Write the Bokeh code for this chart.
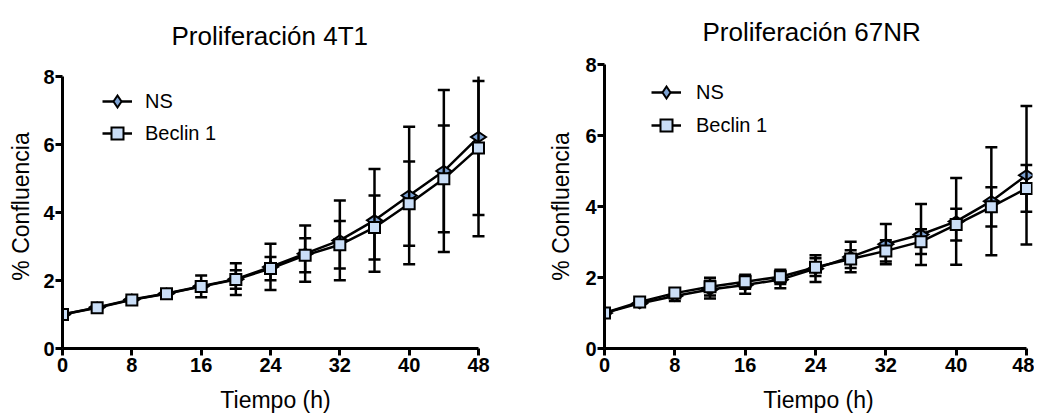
import math
import numpy as np
from bokeh.plotting import figure
from bokeh.layouts import row
from bokeh.models import (Range1d, FixedTicker, Legend, LegendItem,
                          ColumnDataSource)
from bokeh.embed import file_html
from bokeh.resources import INLINE

# ---- data ----
tiempo = [0, 4, 8, 12, 16, 20, 24, 28, 32, 36, 40, 44, 48]
x_ticks = [0, 8, 16, 24, 32, 40, 48]
y_ticks = [0, 2, 4, 6, 8]
y_max = 8

ns_4t1 = [1.00, 1.21, 1.44, 1.62, 1.83, 2.04, 2.40, 2.79, 3.18, 3.77, 4.50, 5.22, 6.22]
ns_4t1_sd = [0.03, 0.05, 0.07, 0.09, 0.32, 0.47, 0.68, 0.83, 1.17, 1.51, 2.02, 2.38, 2.92]
bec_4t1 = [1.00, 1.20, 1.43, 1.61, 1.82, 2.03, 2.35, 2.74, 3.05, 3.56, 4.26, 4.99, 5.90]
bec_4t1_sd = [0.03, 0.04, 0.06, 0.07, 0.15, 0.27, 0.34, 0.50, 0.70, 0.94, 1.24, 1.57, 1.97]

ns_67nr = [1.00, 1.27, 1.48, 1.66, 1.79, 1.94, 2.25, 2.58, 2.94, 3.21, 3.58, 4.15, 4.88]
ns_67nr_sd = [0.03, 0.06, 0.14, 0.25, 0.25, 0.24, 0.38, 0.43, 0.57, 0.86, 1.22, 1.52, 1.95]
bec_67nr = [1.00, 1.31, 1.56, 1.74, 1.88, 2.02, 2.29, 2.52, 2.75, 3.01, 3.49, 3.99, 4.51]
bec_67nr_sd = [0.03, 0.05, 0.12, 0.25, 0.20, 0.20, 0.25, 0.25, 0.30, 0.35, 0.45, 0.55, 0.66]

FONT = "Liberation Sans"
NS_FILL = "#7da2d3"
BEC_FILL = "#cadef7"


def add_series(p, mean, sd, marker, size, fill, angle):
    m = np.array(mean)
    s = np.array(sd)
    hi = m + s
    # bars are cut at the top of the axis, as in the original graph
    src = ColumnDataSource(dict(t=tiempo, y=m, lo=m - s, hi=np.minimum(hi, y_max)))
    keep = hi <= y_max
    cap_src = ColumnDataSource(dict(t=np.array(tiempo)[keep], hi=hi[keep]))
    p.segment(x0="t", y0="lo", x1="t", y1="hi", source=src,
              line_color="black", line_width=2.5)
    p.scatter(x="t", y="lo", source=src, marker="dash", size=12,
              line_color="black", line_width=2.5)
    p.scatter(x="t", y="hi", source=cap_src, marker="dash", size=12,
              line_color="black", line_width=2.5)
    ln = p.line(x="t", y="y", source=src, line_color="black", line_width=2.5)
    mk = p.scatter(x="t", y="y", source=src, marker=marker, size=size,
                   angle=angle, fill_color=fill, line_color="black",
                   line_width=2, line_join="miter")
    return ln, mk


def make_panel(title, ns, ns_sd, bec, bec_sd, cfg):
    p = figure(width=cfg["w"], height=418,
               x_range=Range1d(0, cfg["xend"]), y_range=Range1d(0, cfg["yend"]),
               output_backend="svg", toolbar_location=None,
               min_border_left=cfg["bl"], min_border_right=cfg["br"],
               min_border_top=64, min_border_bottom=70, title=title)
    p.outline_line_color = None
    p.grid.visible = False
    p.background_fill_color = "white"
    p.border_fill_color = "white"

    p.title.text_font = FONT
    p.title.text_font_size = "26px"
    p.title.text_font_style = "normal"
    p.title.text_color = "black"
    p.title.align = "left"
    p.title.offset = cfg["toff"]
    p.title.vertical_align = cfg["tva"]
    p.title.standoff = cfg["tstand"]

    for ax in (p.xaxis[0], p.yaxis[0]):
        ax.axis_line_width = 3
        ax.axis_line_color = "black"
        ax.major_tick_line_width = 3
        ax.major_tick_line_color = "black"
        ax.major_tick_in = 0
        ax.major_tick_out = 7
        ax.minor_tick_line_color = None
        ax.major_label_text_font = FONT
        ax.major_label_text_font_size = "20px"
        ax.major_label_text_font_style = "bold"
        ax.major_label_text_color = "black"
        ax.axis_label_text_font = FONT
        ax.axis_label_text_font_size = "23px"
        ax.axis_label_text_font_style = "normal"
        ax.axis_label_text_color = "black"

    xa = p.xaxis[0]
    xa.ticker = FixedTicker(ticks=x_ticks)
    xa.bounds = (0, 48)
    xa.axis_label = "Tiempo (h)"
    xa.major_label_standoff = 2
    xa.axis_label_standoff = 12

    ya = p.yaxis[0]
    ya.ticker = FixedTicker(ticks=y_ticks)
    ya.bounds = (0, y_max)
    ya.axis_label = "% Confluencia"
    ya.major_label_standoff = 1
    ya.axis_label_standoff = cfg["yas"]

    ns_ln, ns_mk = add_series(p, ns, ns_sd, "diamond", 15, NS_FILL, math.pi / 2)
    bec_ln, bec_mk = add_series(p, bec, bec_sd, "square", 11, BEC_FILL, 0)

    legend = Legend(items=[LegendItem(label="NS", renderers=[ns_ln, ns_mk]),
                           LegendItem(label="Beclin 1", renderers=[bec_ln, bec_mk])],
                    location=cfg["loc"], glyph_width=30, glyph_height=30,
                    spacing=cfg["lsp"], padding=0, margin=0,
                    label_standoff=cfg["lstand"],
                    label_text_font=FONT, label_text_font_size="20px",
                    label_text_color="black",
                    border_line_color=None, background_fill_alpha=0)
    p.add_layout(legend, "center")
    return p


# both frames: top at 64 px, bottom at 348 px
cfg_left = dict(w=545, xend=426 / (416 / 48), yend=8 * 284 / 272, bl=62, br=57,
                yas=6, loc=(40, 200), lsp=2, lstand=13,
                toff=109, tva="bottom", tstand=27)
cfg_right = dict(w=489, xend=429 / (423 / 48), yend=8, bl=58, br=2,
                 yas=8, loc=(47, 208), lsp=3, lstand=15,
                 toff=98, tva="top", tstand=32)

p1 = make_panel("Proliferación 4T1", ns_4t1, ns_4t1_sd, bec_4t1, bec_4t1_sd, cfg_left)
p2 = make_panel("Proliferación 67NR", ns_67nr, ns_67nr_sd, bec_67nr, bec_67nr_sd, cfg_right)

layout = row(p1, p2)
open("out.html", "w").write(file_html(layout, INLINE))
